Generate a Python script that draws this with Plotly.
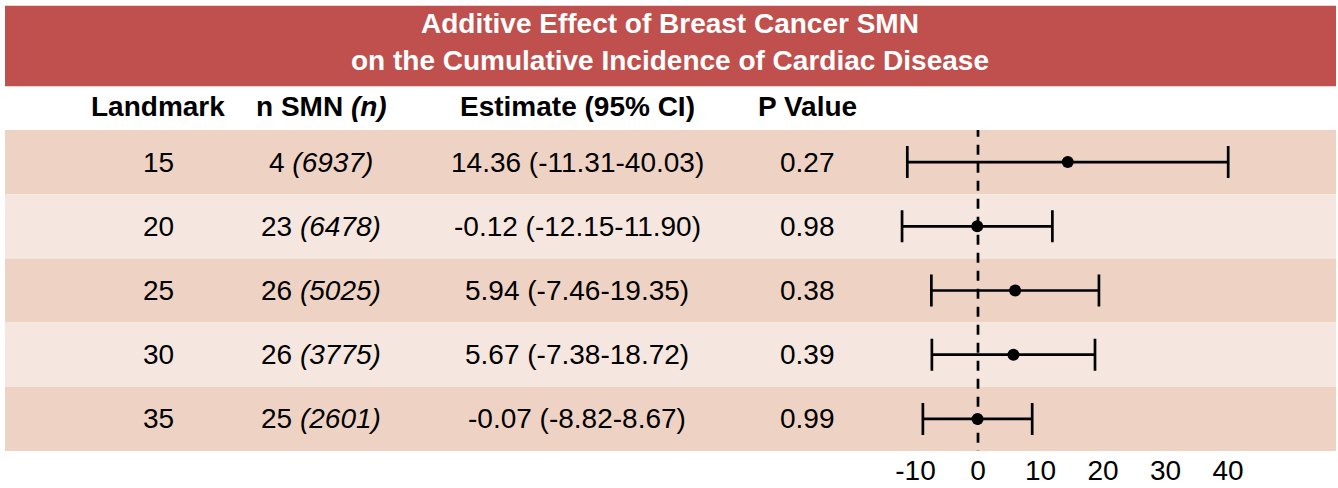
import plotly.graph_objects as go

# table data
landmark = [15, 20, 25, 30, 35]
n_smn = [4, 23, 26, 26, 25]
n_total = [6937, 6478, 5025, 3775, 2601]
estimate = [14.36, -0.12, 5.94, 5.67, -0.07]
ci_low = [-11.31, -12.15, -7.46, -7.38, -8.82]
ci_high = [40.03, 11.90, 19.35, 18.72, 8.67]
p_value = ["0.27", "0.98", "0.38", "0.39", "0.99"]
x_ticks = [-10, 0, 10, 20, 30, 40]
x_tick_text = ["-10", "0", "10", "20", "30", "40"]

title_lines = ["Additive Effect of Breast Cancer SMN",
               "on the Cumulative Incidence of Cardiac Disease"]
headers = ["Landmark", "n SMN <i>(n)</i>", "Estimate (95% CI)", "P Value"]

W, H = 1338, 488
ML, MR, MT, MB = 5, 2, 130, 35
plot_w = W - ML - MR
plot_h = H - MT - MB
zero_px = 978
px_per_unit = 6.25
xmin = -(zero_px - ML) / px_per_unit
xmax = xmin + plot_w / px_per_unit


def px_to_paper_x(px):
    return (px - ML) / plot_w


def py_to_paper_y(py):
    return (H - MB - py) / plot_h


FONT = "Liberation Sans, Arial, sans-serif"
FS = 28
RED = "#C0504D"
DARK = "#EED3C5"
LIGHT = "#F5E7DF"

rows = list(range(1, len(landmark) + 1))

fig = go.Figure()
fig.add_trace(go.Scatter(
    x=estimate,
    y=rows,
    mode="markers",
    marker=dict(color="black", size=12),
    error_x=dict(
        type="data",
        symmetric=False,
        array=[h - e for h, e in zip(ci_high, estimate)],
        arrayminus=[e - lo for e, lo in zip(estimate, ci_low)],
        color="black",
        thickness=2.7,
        width=16,
    ),
    hoverinfo="skip",
))

shapes = []
# alternating row bands
for i, r in enumerate(rows):
    shapes.append(dict(
        type="rect", xref="paper", yref="y", x0=0, x1=1,
        y0=r - 0.5, y1=r + 0.5, fillcolor=DARK if i % 2 == 0 else LIGHT,
        line_width=0, layer="below",
    ))
# dashed zero line
shapes.append(dict(
    type="line", xref="x", yref="y", x0=0, x1=0, y0=0.45, y1=5.55,
    line=dict(color="black", width=2.7, dash="10px,8px"), layer="below",
))
# title band
shapes.append(dict(
    type="rect", xref="paper", yref="paper", x0=0, x1=1,
    y0=py_to_paper_y(86), y1=py_to_paper_y(5),
    fillcolor=RED, line_width=0, layer="below",
))

annotations = []
for line, py in zip(title_lines, [23, 60]):
    annotations.append(dict(
        text=line, xref="paper", yref="paper",
        x=px_to_paper_x(670), y=py_to_paper_y(py), showarrow=False,
        font=dict(family=FONT, size=FS, color="white", weight="bold"),
        xanchor="center", yanchor="middle",
    ))

col_px = [158, 321, 577, 807]
for cx, h in zip(col_px, headers):
    annotations.append(dict(
        text=h, xref="paper", yref="paper", x=px_to_paper_x(cx),
        y=py_to_paper_y(106), showarrow=False,
        font=dict(family=FONT, size=FS, color="black", weight="bold"),
        xanchor="center", yanchor="middle",
    ))

for i, r in enumerate(rows):
    cells = [
        str(landmark[i]),
        f"{n_smn[i]} <i>({n_total[i]})</i>",
        f"{estimate[i]:.2f} ({ci_low[i]:.2f}-{ci_high[i]:.2f})",
        p_value[i],
    ]
    for cx, c in zip(col_px, cells):
        annotations.append(dict(
            text=c, xref="paper", yref="y", x=px_to_paper_x(cx), y=r,
            showarrow=False, font=dict(family=FONT, size=FS, color="black"),
            xanchor="center", yanchor="middle",
        ))

fig.update_layout(
    width=W, height=H,
    margin=dict(l=ML, r=MR, t=MT, b=MB, pad=0),
    plot_bgcolor="white", paper_bgcolor="white",
    showlegend=False,
    shapes=shapes,
    annotations=annotations,
    font=dict(family=FONT, size=FS, color="black"),
)
fig.update_xaxes(
    range=[xmin, xmax], tickvals=x_ticks, ticktext=x_tick_text,
    showgrid=False, zeroline=False, showline=False, ticks="",
    tickfont=dict(size=FS), fixedrange=True,
)
fig.update_yaxes(
    range=[5.5, 0.5], showgrid=False, zeroline=False, showline=False,
    showticklabels=False, ticks="", fixedrange=True,
)

fig.write_html(
    "out.html",
    config={"displayModeBar": False},
    post_script="document.body.style.margin='0px';",
)
